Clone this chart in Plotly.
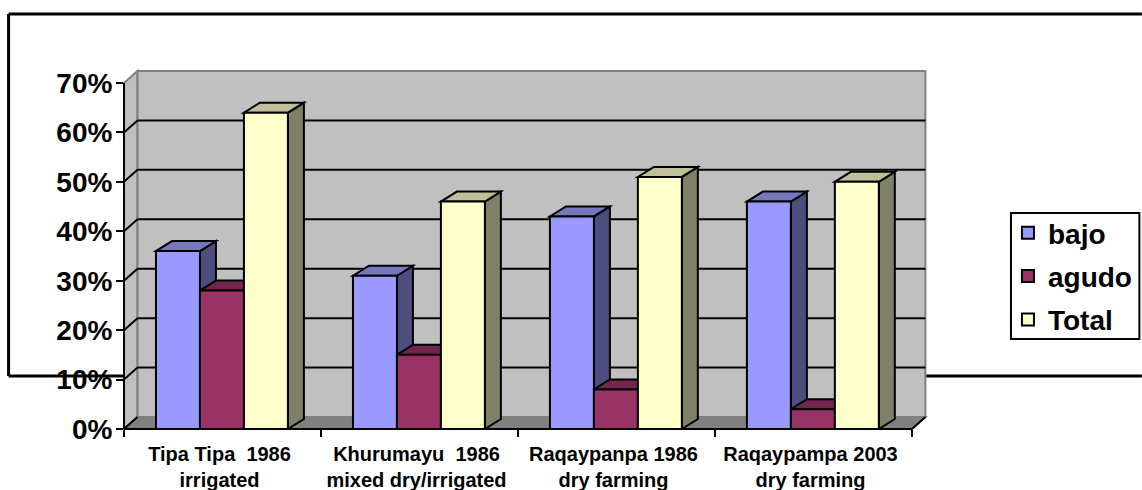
import plotly.graph_objects as go

categories = ["Tipa Tipa  1986<br>irrigated", "Khurumayu  1986<br>mixed dry/irrigated",
              "Raqaypanpa 1986<br>dry farming", "Raqaypampa 2003<br>dry farming"]
bajo = [36, 31, 43, 46]
agudo = [28, 15, 8, 4]
total = [64, 46, 51, 50]
y_ticks = [0, 10, 20, 30, 40, 50, 60, 70]
y_labels = ["0%", "10%", "20%", "30%", "40%", "50%", "60%", "70%"]

W, H = 1142, 490
PX_L, PX_B = 123.5, 429.0      # pixel of category 0 / value 0
PX_CAT, PX_PCT = 197.1, 4.943  # pixels per category / per percent
PX_R, PX_T = 930.0, 66.0       # plot area edges

x_max = (PX_R - PX_L) / PX_CAT
y_max = (PX_B - PX_T) / PX_PCT
wall_dx, wall_dy = 13.5 / PX_CAT, 12 / PX_PCT   # depth of the chart box
bar_dx, bar_dy = 16 / PX_CAT, 10 / PX_PCT       # depth of a bar
bar_w, gap = 44 / PX_CAT, 32 / PX_CAT

series = [
    ("bajo", bajo, "#9999FF", "#7777C0", "#4D4D80"),
    ("agudo", agudo, "#993366", "#73264D", "#4D1A33"),
    ("Total", total, "#FFFFCC", "#BFBF99", "#808066"),
]

def page_x(p):
    return (p - PX_L) / (PX_R - PX_L)

def page_y(p):
    return (PX_B - p) / (PX_B - PX_T)

def px(xv, yv):
    return (xv / x_max, yv / y_max)

def path(points):
    return "M" + "L".join(f"{a:.5f},{b:.5f}" for a, b in points) + "Z"

shapes = []
def paper_poly(points, fill=None, color="black", width=2):
    pts = [px(*p) for p in points]
    shapes.append(dict(type="path", path=path(pts), xref="paper", yref="paper", layer="below",
                       fillcolor=fill or "rgba(0,0,0,0)", line=dict(color=color, width=width)))
def paper_line(a, b, color="black", width=2):
    (x0, y0), (x1, y1) = px(*a), px(*b)
    shapes.append(dict(type="line", x0=x0, y0=y0, x1=x1, y1=y1, xref="paper", yref="paper",
                       layer="below", line=dict(color=color, width=width)))

# outer frame behind the chart
for (x0, y0, x1, y1) in [(8, 14, W, 14), (8, 14, 8, 376), (8, 376, W, 376)]:
    shapes.append(dict(type="line", x0=page_x(x0), x1=page_x(x1), y0=page_y(y0), y1=page_y(y1),
                       xref="paper", yref="paper", layer="below", line=dict(color="black", width=3)))

# legend frame
shapes.append(dict(type="rect", x0=page_x(1011), x1=page_x(1139.5), y0=page_y(213), y1=page_y(339),
                   xref="paper", yref="paper", layer="below", fillcolor="white",
                   line=dict(color="black", width=2)))

# chart box
top = y_ticks[-1]
n = len(categories)
paper_poly([(0, 0), (wall_dx, wall_dy), (wall_dx, top + wall_dy), (0, top)], "#C0C0C0", "#808080")
paper_poly([(wall_dx, wall_dy), (n + wall_dx, wall_dy), (n + wall_dx, top + wall_dy), (wall_dx, top + wall_dy)],
           "#C0C0C0", "#808080")
paper_poly([(0, 0), (n, 0), (n + wall_dx, wall_dy), (wall_dx, wall_dy)], "#808080", "#808080")
for v in y_ticks[1:-1]:
    paper_line((wall_dx, v + wall_dy), (n + wall_dx, v + wall_dy))
    paper_line((0, v), (wall_dx, v + wall_dy))
paper_line((0, 0), (wall_dx, wall_dy))
paper_line((n, 0), (n + wall_dx, wall_dy))
paper_line((0, 0), (0, top))
paper_line((0, 0), (n, 0))

# bar depth faces, from the data
fig = go.Figure()
for i in range(n):
    for k, (name, vals, front, topc, side) in enumerate(series):
        left = i + gap + k * bar_w
        right = left + bar_w
        v = vals[i]
        shapes.append(dict(type="path", xref="x", yref="y", layer="below", fillcolor=side,
                           line=dict(color="black", width=2),
                           path=path([(right, 0), (right + bar_dx, bar_dy), (right + bar_dx, v + bar_dy), (right, v)])))
        shapes.append(dict(type="path", xref="x", yref="y", layer="below", fillcolor=topc,
                           line=dict(color="black", width=2),
                           path=path([(left, v), (right, v), (right + bar_dx, v + bar_dy), (left + bar_dx, v + bar_dy)])))

for k, (name, vals, front, topc, side) in enumerate(series):
    fig.add_trace(go.Bar(
        x=[i + gap + k * bar_w + bar_w / 2 for i in range(n)], y=vals, width=bar_w, name=name,
        legendgroup=name, cliponaxis=False,
        marker=dict(color=front, line=dict(color="black", width=2)),
    ))

fig.update_layout(
    width=W, height=H, paper_bgcolor="white", plot_bgcolor="rgba(0,0,0,0)",
    barmode="overlay", shapes=shapes,
    margin=dict(l=PX_L, r=W - PX_R, t=PX_T, b=H - PX_B, pad=0, autoexpand=False),
    font=dict(family="Liberation Sans", color="black", weight=700),
    legend=dict(x=page_x(1008), xanchor="left", y=page_y(208), yanchor="top",
                bgcolor="rgba(0,0,0,0)", borderwidth=0,
                font=dict(size=28, family="Liberation Sans", color="black", weight=700),
                traceorder="grouped", tracegroupgap=4, itemwidth=30),
    xaxis=dict(range=[0, x_max], tickmode="array", tickvals=[i + 0.485 for i in range(n)],
               ticktext=categories, ticks="", showgrid=False, zeroline=False, showline=False,
               ticklabelstandoff=11,
               tickfont=dict(size=20, family="Liberation Sans", color="black", weight=700),
               minor=dict(tickmode="array", tickvals=list(range(n + 1)), ticks="outside",
                          ticklen=7, tickwidth=2, tickcolor="black", showgrid=False)),
    yaxis=dict(range=[0, y_max], tickmode="array", tickvals=y_ticks, ticktext=y_labels, ticks="outside",
               ticklen=7, tickwidth=2, tickcolor="black", showgrid=False, zeroline=False, showline=False,
               ticklabelstandoff=-2,
               tickfont=dict(size=28, family="Liberation Sans", color="black", weight=700)),
)

fig.write_html("out.html", config={"displayModeBar": False},
               post_script="document.body.style.margin='0';document.documentElement.style.overflow='hidden';")
